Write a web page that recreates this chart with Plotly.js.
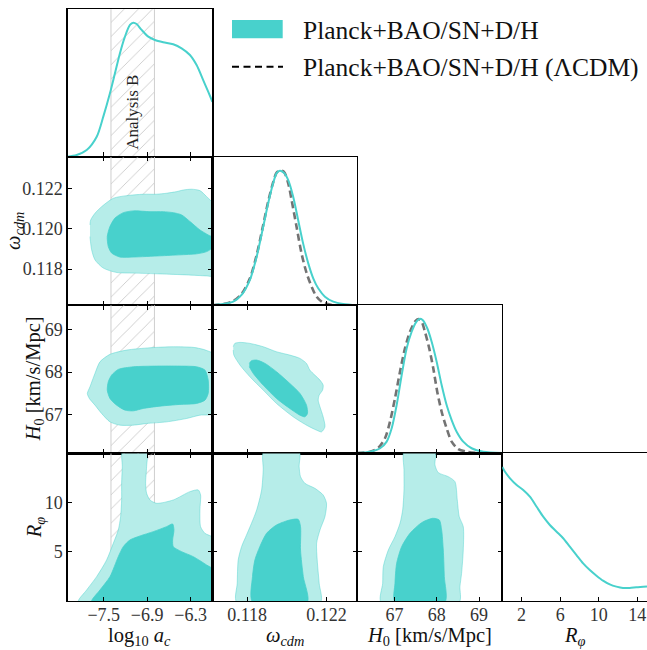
<!DOCTYPE html>
<html><head><meta charset="utf-8">
<script src="https://cdn.plot.ly/plotly-3.0.1.min.js"></script>
<style>html,body{margin:0;padding:0;background:#fff}#plot{width:647px;height:650px}</style>
</head><body><div id="plot"></div>
<script>
// ---------- data ----------
const bandX = [-7.4, -6.8];

// 1D marginals
const acGrid = [-8.0,-7.873,-7.735,-7.597,-7.506,-7.414,-7.345,-7.276,-7.207,-7.138,-7.092,-7.046,-6.977,-6.885,-6.793,-6.679,-6.541,-6.425,-6.310,-6.218,-6.127,-6.058,-6.0];
const acPdf  = [0.0,0.013,0.05,0.149,0.299,0.473,0.622,0.772,0.896,0.983,1.0,0.99,0.946,0.896,0.871,0.854,0.839,0.809,0.759,0.684,0.572,0.485,0.41];

const omGrid = [0.11626,0.11679,0.1173,0.11772,0.11814,0.11848,0.11881,0.11906,0.11931,0.11948,0.11965,0.11985,0.12007,0.12032,0.12057,0.12082,0.12108,0.12133,0.12158,0.12192,0.12234,0.12284,0.12355];
const omPdf  = [0.0,0.009,0.026,0.076,0.187,0.359,0.581,0.755,0.903,0.977,0.996,0.981,0.927,0.804,0.631,0.458,0.31,0.199,0.125,0.063,0.026,0.009,0.0];
const omGridLcdm = [0.11626,0.11679,0.1173,0.11772,0.11814,0.11848,0.11881,0.11906,0.11931,0.11948,0.11962,0.11985,0.12007,0.12024,0.12049,0.12074,0.121,0.12125,0.1215,0.12183,0.12234];
const omPdfLcdm  = [0.0,0.009,0.031,0.083,0.199,0.372,0.594,0.767,0.91,0.981,0.996,0.989,0.903,0.779,0.581,0.384,0.236,0.137,0.063,0.019,0.0];

const h0Grid = [66.12,66.42,66.66,66.815,66.933,67.051,67.17,67.288,67.406,67.508,67.586,67.666,67.775,67.879,67.997,68.115,68.233,68.352,68.47,68.626,68.824,69.099,69.55];
const h0Pdf  = [0.004,0.013,0.039,0.088,0.187,0.36,0.582,0.78,0.903,0.973,0.998,0.99,0.929,0.829,0.681,0.508,0.36,0.248,0.162,0.088,0.039,0.013,0.004];
const h0GridLcdm = [66.12,66.42,66.617,66.775,66.893,67.011,67.13,67.248,67.366,67.484,67.562,67.642,67.72,67.822,67.917,68.011,68.115,68.233,68.352,68.508,68.706,68.943];
const h0PdfLcdm  = [0.004,0.013,0.043,0.113,0.236,0.409,0.607,0.78,0.903,0.978,0.998,0.978,0.903,0.78,0.632,0.458,0.31,0.187,0.088,0.033,0.013,0.004];

const rGrid = [0,0.28,0.8,1.49,2.17,2.86,3.56,4.24,4.93,5.63,6.31,7.0,7.69,8.38,9.07,9.76,10.44,11.14,11.83,12.51,13.21,13.9,15.0];
const rPdf  = [1.0,0.964,0.915,0.865,0.828,0.778,0.703,0.629,0.567,0.517,0.468,0.405,0.343,0.281,0.231,0.189,0.152,0.124,0.107,0.097,0.097,0.102,0.108];

// 2D contours (outer = 95%, inner = 68%)
const acOm95X = [-7.690,-7.680,-7.621,-7.529,-7.368,-7.184,-6.954,-6.770,-6.632,-6.494,-6.402,-6.287,-6.172,-6.080,-5.98,-5.98,-6.080,-6.356,-6.724,-7.092,-7.322,-7.506,-7.621,-7.667,-7.690];
const acOm95Y = [0.12020,0.12045,0.12078,0.12111,0.12153,0.12166,0.12173,0.12173,0.12178,0.12186,0.12194,0.12198,0.12191,0.12161,0.1212,0.11766,0.11766,0.11771,0.11776,0.1178,0.11783,0.11805,0.11846,0.11896,0.11962];
const acOm68X = [-7.451,-7.414,-7.345,-7.230,-7.092,-6.862,-6.678,-6.540,-6.425,-6.310,-6.172,-6.058,-5.98,-5.98,-6.080,-6.219,-6.448,-6.724,-7.092,-7.276,-7.391,-7.437,-7.451];
const acOm68Y = [0.11962,0.12012,0.12054,0.12081,0.1209,0.12086,0.12086,0.12081,0.1207,0.12037,0.11995,0.1197,0.11954,0.11912,0.11887,0.11876,0.11871,0.11866,0.1186,0.1186,0.1188,0.11912,0.11962];

const acH095X = [-7.726,-7.690,-7.621,-7.552,-7.414,-7.184,-6.862,-6.540,-6.264,-6.126,-6.034,-5.98,-5.98,-6.172,-6.356,-6.632,-6.908,-7.092,-7.276,-7.414,-7.529,-7.621,-7.699,-7.726];
const acH095Y = [67.50,67.656,67.969,68.24,68.413,68.513,68.567,68.59,68.576,68.53,68.474,68.436,67.034,66.995,66.917,66.838,66.80,66.761,66.761,66.838,67.034,67.228,67.385,67.50];
const acH068X = [-7.451,-7.437,-7.391,-7.299,-7.092,-6.770,-6.448,-6.219,-6.103,-6.058,-6.058,-6.103,-6.219,-6.448,-6.724,-6.954,-7.092,-7.207,-7.322,-7.414,-7.451];
const acH068Y = [67.579,67.773,67.929,68.062,68.123,68.139,68.139,68.123,68.046,67.812,67.50,67.345,67.268,67.245,67.205,67.151,67.095,67.112,67.228,67.385,67.579];

const omH095X = [0.11730,0.11738,0.11764,0.11814,0.11881,0.11948,0.12015,0.12066,0.12099,0.12116,0.12141,0.12167,0.12183,0.12180,0.12163,0.12158,0.12167,0.12183,0.12192,0.12175,0.12150,0.12099,0.12032,0.11948,0.11881,0.11814,0.11764,0.11733,0.11730];
const omH095Y = [68.591,68.669,68.692,68.669,68.591,68.474,68.396,68.319,68.202,68.046,67.929,67.812,67.696,67.579,67.462,67.345,67.189,66.956,66.722,66.605,66.644,66.761,66.956,67.267,67.579,67.89,68.163,68.396,68.513];
const omH068X = [0.11811,0.11822,0.11848,0.11890,0.11948,0.12015,0.12066,0.12099,0.12104,0.12091,0.12066,0.12015,0.11948,0.11881,0.11831,0.11811];
const omH068Y = [68.202,68.264,68.28,68.202,68.007,67.734,67.501,67.228,67.034,66.956,66.995,67.15,67.384,67.696,67.968,68.124];

const acR95X = [-7.851,-7.736,-7.598,-7.460,-7.368,-7.299,-7.267,-7.253,-7.253,-7.244,-7.239,-6.908,-6.908,-6.922,-6.908,-6.862,-6.770,-6.540,-6.310,-6.195,-6.163,-6.172,-6.163,-6.103,-5.98,-5.98,-7.851];
const acR95Y = [-0.1,1.119,2.475,4.171,5.867,7.223,8.579,10.275,11.97,13.665,15.3,15.3,13.665,11.97,10.953,10.275,9.936,10.275,11.122,11.292,10.783,9.257,7.562,6.884,6.375,-0.1,-0.1];
const acR68X = [-7.667,-7.552,-7.414,-7.299,-7.230,-7.138,-7.0,-6.816,-6.632,-6.549,-6.531,-6.549,-6.540,-6.425,-6.264,-6.080,-5.98,-5.98,-7.667];
const acR68Y = [-0.1,1.119,2.475,4.51,5.527,6.205,6.612,7.053,7.562,7.833,7.223,6.205,5.527,5.018,4.51,3.662,3.154,-0.1,-0.1];

const omR95X = [0.11747,0.11750,0.11755,0.11772,0.11797,0.11822,0.11848,0.11873,0.11881,0.11884,0.12062,0.12062,0.12069,0.12091,0.12141,0.12183,0.12200,0.12192,0.12167,0.12150,0.12153,0.12163,0.12170,0.11747];
const omR95Y = [-0.1,1.797,4.171,5.527,6.714,7.901,9.257,11.292,13.327,15.3,15.3,13.665,12.648,11.97,11.462,10.783,9.936,8.579,7.223,5.867,4.171,1.797,-0.1,-0.1];
const omR68X = [0.11827,0.11827,0.11839,0.11864,0.11898,0.11948,0.12015,0.12057,0.12069,0.12069,0.12083,0.12103,0.11827];
const omR68Y = [-0.1,2.475,4.171,5.527,6.884,7.731,8.24,8.308,7.562,5.188,2.475,-0.1,-0.1];

const h0R95X = [66.680,66.72,66.735,66.854,67.011,67.13,67.193,67.224,67.224,67.232,67.957,67.957,68.036,68.272,68.43,68.485,68.532,68.627,68.627,68.587,68.548,68.532,66.680];
const h0R95Y = [-0.1,1.797,3.493,5.188,6.545,7.901,9.257,11.292,13.327,15.3,15.3,13.835,13.055,12.648,12.139,10.275,8.579,7.562,5.188,2.815,1.458,-0.1,-0.1];
const h0R68X = [67.011,67.011,67.051,67.169,67.366,67.642,67.902,68.059,68.115,68.154,68.178,68.193,67.011];
const h0R68Y = [-0.1,1.797,3.832,5.527,6.884,7.968,8.41,8.24,7.223,5.188,2.475,-0.1,-0.1];

// axis ticks
const acTicks = [-7.5,-6.9,-6.3], acTickText = ['\u22127.5','\u22126.9','\u22126.3'];
const omXTicks = [0.118,0.122], omXTickText = ['0.118','0.122'];
const omYTicks = [0.118,0.120,0.122], omYTickText = ['0.118','0.120','0.122'];
const h0Ticks = [67,68,69], h0TickText = ['67','68','69'];
const rXTicks = [2,6,10,14], rXTickText = ['2','6','10','14'];
const rYTicks = [5,10], rYTickText = ['5','10'];

const legendLabels = ['Planck+BAO/SN+D/H', 'Planck+BAO/SN+D/H (\u039BCDM)'];

// ---------- styling / layout ----------
const FONT = 'Liberation Serif';
const DARK = '#48d1cc', LIGHT = '#b6ede9', LIGHTEDGE = 'rgba(72,209,204,0.55)';
const colDom = [[0.10433,0.32828],[0.32828,0.55224],[0.55224,0.77635],[0.77635,1.0]];
const rowDom = [[0.75892,0.98569],[0.53046,0.75892],[0.30231,0.53046],[0.07538,0.30231]];
const xCfg = [
  {range:[-8,-6], tickvals:acTicks, ticktext:acTickText},
  {range:[0.11625,0.12355], tickvals:omXTicks, ticktext:omXTickText},
  {range:[66.12,69.55], tickvals:h0Ticks, ticktext:h0TickText},
  {range:[0,15], tickvals:rXTicks, ticktext:rXTickText}
];
const yCfg = [
  null,
  {range:[0.1162,0.1236], tickvals:omYTicks, ticktext:omYTickText},
  {range:[66.1,69.56], tickvals:h0Ticks, ticktext:h0TickText},
  {range:[0,15], tickvals:rYTicks, ticktext:rYTickText}
];
const panels = [[0,0],[1,0],[1,1],[2,0],[2,1],[2,2],[3,0],[3,1],[3,2],[3,3]];

const layout = {
  width:647, height:650, margin:{l:0,r:0,t:0,b:0},
  paper_bgcolor:'#fff', plot_bgcolor:'rgba(0,0,0,0)',
  showlegend:false, hovermode:false,
  font:{family:FONT, color:'#222'},
  annotations:[], shapes:[]
};
const tickFont = {family:FONT, size:18, color:'#333'};

panels.forEach(([r,c],i)=>{
  const k = i+1;
  const diag = r===c;
  const xa = {
    domain:colDom[c], anchor:'y'+k, range:xCfg[c].range, tickvals:xCfg[c].tickvals, ticktext:xCfg[c].ticktext,
    showline:true, linecolor:'#000', linewidth:1.2, mirror: diag ? true : 'ticks',
    ticks:'inside', ticklen:4.5, tickwidth:1, tickcolor:'#000', ticklabelstandoff:-3,
    showticklabels: r===3, tickfont:tickFont, showgrid:false, zeroline:false, fixedrange:true
  };
  let ya;
  if (diag) {
    ya = {domain:rowDom[r], anchor:'x'+k, range:[0,1.1], showline:true, linecolor:'#000', linewidth:1.2, mirror:true,
      ticks:'', showticklabels:false, showgrid:false, zeroline:false, fixedrange:true};
  } else {
    ya = {domain:rowDom[r], anchor:'x'+k, range:yCfg[r].range, tickvals:yCfg[r].tickvals, ticktext:yCfg[r].ticktext,
      showline:true, linecolor:'#000', linewidth:1.2, mirror:'ticks',
      ticks:'inside', ticklen:4.5, tickwidth:1, tickcolor:'#000',
      showticklabels: c===0, tickfont:tickFont, showgrid:false, zeroline:false, fixedrange:true};
  }
  layout['xaxis'+(k===1?'':k)] = xa;
  layout['yaxis'+(k===1?'':k)] = ya;
});

const traces = [];
function axRef(k){ return {xaxis:'x'+(k===1?'':k), yaxis:'y'+(k===1?'':k)}; }
function bandTrace(k, yr){
  const pad = (yr[1]-yr[0])*0.05;
  return Object.assign({type:'scatter', mode:'lines',
    x:[bandX[0],bandX[1],bandX[1],bandX[0],bandX[0]],
    y:[yr[0]-pad,yr[0]-pad,yr[1]+pad,yr[1]+pad,yr[0]-pad],
    fill:'toself', fillcolor:'rgba(0,0,0,0)',
    fillpattern:{shape:'/', fgcolor:'#c4c4c4', bgcolor:'rgba(255,255,255,0)', size:10, solidity:0.08},
    line:{color:'#cfcfcf', width:1}, hoverinfo:'skip'}, axRef(k));
}
function contourTrace(k, xs, ys, fillc, linec){
  return Object.assign({type:'scatter', mode:'lines', x:xs, y:ys, fill:'toself', fillcolor:fillc,
    line:{color:linec, width:0.8, shape:'spline', smoothing:0.7}, hoverinfo:'skip'}, axRef(k));
}
function curveTrace(k, xs, ys, dashed){
  return Object.assign({type:'scatter', mode:'lines', x:xs, y:ys,
    line: dashed ? {color:'rgba(0,0,0,0.55)', width:2.6, dash:'7px,4px', shape:'spline', smoothing:0.8}
                 : {color:DARK, width:2, shape:'spline', smoothing:0.8}, hoverinfo:'skip'}, axRef(k));
}

// column 1 bands
traces.push(bandTrace(1,[0,1.1]));
traces.push(bandTrace(2,yCfg[1].range));
traces.push(bandTrace(4,yCfg[2].range));
traces.push(bandTrace(7,yCfg[3].range));

// diagonals
traces.push(curveTrace(1, acGrid, acPdf));
traces.push(curveTrace(3, omGridLcdm, omPdfLcdm, true));
traces.push(curveTrace(3, omGrid, omPdf));
traces.push(curveTrace(6, h0GridLcdm, h0PdfLcdm, true));
traces.push(curveTrace(6, h0Grid, h0Pdf));
traces.push(curveTrace(10, rGrid, rPdf));

// 2D
traces.push(contourTrace(2, acOm95X, acOm95Y, LIGHT, LIGHTEDGE));
traces.push(contourTrace(2, acOm68X, acOm68Y, DARK, DARK));
traces.push(contourTrace(4, acH095X, acH095Y, LIGHT, LIGHTEDGE));
traces.push(contourTrace(4, acH068X, acH068Y, DARK, DARK));
traces.push(contourTrace(5, omH095X, omH095Y, LIGHT, LIGHTEDGE));
traces.push(contourTrace(5, omH068X, omH068Y, DARK, DARK));
traces.push(contourTrace(7, acR95X, acR95Y, LIGHT, LIGHTEDGE));
traces.push(contourTrace(7, acR68X, acR68Y, DARK, DARK));
traces.push(contourTrace(8, omR95X, omR95Y, LIGHT, LIGHTEDGE));
traces.push(contourTrace(8, omR68X, omR68Y, DARK, DARK));
traces.push(contourTrace(9, h0R95X, h0R95Y, LIGHT, LIGHTEDGE));
traces.push(contourTrace(9, h0R68X, h0R68Y, DARK, DARK));

// annotations: axis titles
const W = 647, H = 650;
const px = v => v/W, py = v => 1 - v/H;
const titleFont = {family:FONT, size:20.5, color:'#111'};
const xTitles = ['log<sub>10</sub> <i>a</i><sub><i>c</i></sub>', '<i>ω</i><sub><i>cdm</i></sub>', '<i>H</i><sub>0</sub> [km/s/Mpc]', '<i>R</i><sub><i>φ</i></sub>'];
const yTitles = [null, '<i>ω</i><sub><i>cdm</i></sub>', '<i>H</i><sub>0</sub> [km/s/Mpc]', '<i>R</i><sub><i>φ</i></sub>'];
const yTitleX = [0, 15, 34, 35];
xTitles.forEach((t,c)=>{
  layout.annotations.push({text:t, xref:'paper', yref:'paper', x:(colDom[c][0]+colDom[c][1])/2, y:py(636.5),
    xanchor:'center', yanchor:'middle', showarrow:false, font:titleFont});
});
yTitles.forEach((t,r)=>{
  if(!t) return;
  layout.annotations.push({text:t, xref:'paper', yref:'paper', x:px(yTitleX[r]), y:(rowDom[r][0]+rowDom[r][1])/2,
    xanchor:'center', yanchor:'middle', textangle:-90, showarrow:false, font:titleFont});
});
// Analysis B
layout.annotations.push({text:'Analysis B', xref:'x', yref:'paper', x:(bandX[0]+bandX[1])/2, y:py(112),
  xanchor:'center', yanchor:'middle', textangle:-90, showarrow:false, font:{family:FONT, size:17, color:'#222'}});

// legend
layout.shapes.push({type:'rect', xref:'paper', yref:'paper', x0:px(232), x1:px(282.7), y0:py(38.3), y1:py(20),
  fillcolor:DARK, line:{width:0}});
layout.shapes.push({type:'line', xref:'paper', yref:'paper', x0:px(232), x1:px(283), y0:py(66.7), y1:py(66.7),
  line:{color:'#000', width:2, dash:'7px,4.5px'}});
layout.annotations.push({text:legendLabels[0], xref:'paper', yref:'paper', x:px(301), y:py(30), xanchor:'left', yanchor:'middle',
  showarrow:false, font:{family:FONT, size:25.5, color:'#111'}});
layout.annotations.push({text:legendLabels[1], xref:'paper', yref:'paper', x:px(301), y:py(67), xanchor:'left', yanchor:'middle',
  showarrow:false, font:{family:FONT, size:25.5, color:'#111'}});

traces.forEach(t=>t.showlegend=false);
Plotly.newPlot('plot', traces, layout, {staticPlot:true, displayModeBar:false});
</script></body></html>
